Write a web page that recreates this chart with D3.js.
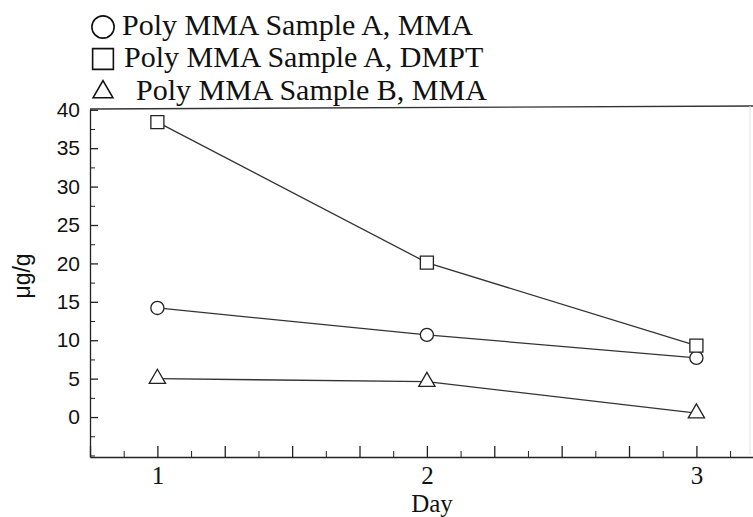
<!DOCTYPE html>
<html lang="en">
<head>
    <meta charset="UTF-8">
    <title>Poly MMA residuals</title>
    <script src="https://d3js.org/d3.v7.min.js"></script>
    <style>
        html, body {
            margin: 0;
            background: white;
        }
        .axis path, .axis line {
            stroke: #222;
        }
        .ytick text {
            font-family: "Liberation Sans", sans-serif;
            font-size: 21px;
            fill: #111;
        }
        .xtick text {
            font-family: "Liberation Serif", serif;
            font-size: 25px;
            fill: #111;
        }
        .serif {
            font-family: "Liberation Serif", serif;
            fill: #111;
        }
    </style>
</head>
<body>
    <div id="chart"></div>
    <script>

        // data
        var days = [1, 2, 3];
        var sampleA_MMA = [14.2, 10.7, 7.7];
        var sampleA_DMPT = [38.4, 20.1, 9.3];
        var sampleB_MMA = [5.0, 4.6, 0.5];

        var seriesNames = ["Poly MMA Sample A, MMA", "Poly MMA Sample A, DMPT", "Poly MMA Sample B, MMA"];
        var yMajorTicks = [0, 5, 10, 15, 20, 25, 30, 35, 40];
        var yMinorTicks = [-5, -2.5, 2.5, 7.5, 12.5, 17.5, 22.5, 27.5, 32.5, 37.5];
        var xLabelTicks = [1, 2, 3];
        var xLongTicks = [0.75, 1, 1.25, 1.5, 1.75, 2, 2.25, 2.5, 2.75, 3];
        var xShortTicks = [0.875, 1.125, 1.375, 1.625, 1.875, 2.125, 2.375, 2.625, 2.875, 3.125];

        var width = 753;
        var height = 517;

        var svg = d3.select('#chart')
                    .append('svg')
                        .attr('width', width)
                        .attr('height', height);

        var x = d3.scaleLinear()
                    .domain([0.75, 3.21])
                    .range([90, 753]);

        var y = d3.scaleLinear()
                    .domain([-5.2, 40.1])
                    .range([457, 109]);

        // frame top and faint right edge
        svg.append('line')
            .attr('x1', 90).attr('x2', width)
            .attr('y1', 109).attr('y2', 106)
            .attr('stroke', '#333')
            .attr('stroke-width', 1.3);

        svg.append('line')
            .attr('x1', 750).attr('x2', 750)
            .attr('y1', 106).attr('y2', 455)
            .attr('stroke', '#e2e2e2')
            .attr('stroke-width', 1);

        // y axis
        svg.append('g')
            .attr('class', 'axis ytick')
            .attr('transform', 'translate(90,0)')
            .call(d3.axisLeft(y).tickValues(yMajorTicks).tickSize(-8).tickPadding(10).tickSizeOuter(0))
            .call(function(g){ g.selectAll('path, line').attr('stroke-width', 1.3); });

        svg.append('g')
            .attr('class', 'axis')
            .attr('transform', 'translate(90,0)')
            .call(d3.axisLeft(y).tickValues(yMinorTicks).tickSize(-5).tickFormat('').tickSizeOuter(0))
            .call(function(g){ g.select('.domain').remove(); });

        // x axis
        svg.append('g')
            .attr('class', 'axis')
            .attr('transform', 'translate(0,457)')
            .call(d3.axisBottom(x).tickValues(xLongTicks).tickSize(-11).tickFormat('').tickSizeOuter(0))
            .call(function(g){ g.selectAll('path, line').attr('stroke-width', 1.3); });

        svg.append('g')
            .attr('class', 'axis')
            .attr('transform', 'translate(0,457)')
            .call(d3.axisBottom(x).tickValues(xShortTicks).tickSize(-6).tickFormat('').tickSizeOuter(0))
            .call(function(g){ g.select('.domain').remove(); });

        svg.append('g')
            .attr('class', 'xtick')
            .attr('transform', 'translate(0,457)')
            .call(d3.axisBottom(x).tickValues(xLabelTicks).tickSize(0).tickPadding(9).tickFormat(d3.format('d')))
            .call(function(g){ g.select('.domain').remove(); });

        // axis titles
        svg.append('text')
            .attr('class', 'serif')
            .attr('x', 432)
            .attr('y', 512)
            .attr('text-anchor', 'middle')
            .style('font-size', '25px')
            .text('Day');

        svg.append('text')
            .attr('transform', 'translate(30,276)rotate(-90)')
            .attr('text-anchor', 'middle')
            .style('font-family', '"Liberation Sans", sans-serif')
            .style('font-size', '23px')
            .attr('fill', '#111')
            .text('\u03bcg/g');

        // series
        var series = [
            { name: seriesNames[0], values: sampleA_MMA, symbol: d3.symbolCircle },
            { name: seriesNames[1], values: sampleA_DMPT, symbol: d3.symbolSquare },
            { name: seriesNames[2], values: sampleB_MMA, symbol: d3.symbolTriangle }
        ];

        var markerSize = [135, 170, 115];
        var legendSize = [390, 430, 170];

        var line = d3.line()
            .x(function(d){ return x(d.day); })
            .y(function(d){ return y(d.value); });

        series.forEach(function(s, i){
            var pts = days.map(function(d, j){ return { day: d, value: s.values[j] }; });

            svg.append('path')
                .datum(pts)
                .attr('d', line)
                .attr('fill', 'none')
                .attr('stroke', '#333')
                .attr('stroke-width', 1.3);

            svg.selectAll('.m' + i)
                .data(pts)
                .enter()
                .append('path')
                .attr('class', 'm' + i)
                .attr('transform', function(d){ return 'translate(' + x(d.day) + ',' + y(d.value) + ')'; })
                .attr('d', d3.symbol().type(s.symbol).size(markerSize[i]))
                .attr('fill', 'white')
                .attr('stroke', '#222')
                .attr('stroke-width', 1.3);
        });

        // legend
        var legend = svg.append('g')
            .attr('transform', 'translate(103,0)');

        var legendY = [27, 59, 92];
        var legendTextX = [19, 21, 33];

        series.forEach(function(s, i){
            legend.append('path')
                .attr('transform', 'translate(0,' + legendY[i] + ')')
                .attr('d', d3.symbol().type(s.symbol).size(legendSize[i]))
                .attr('fill', 'white')
                .attr('stroke', '#111')
                .attr('stroke-width', 1.6);

            legend.append('text')
                .attr('class', 'serif')
                .attr('x', legendTextX[i])
                .attr('y', legendY[i] + 8)
                .style('font-size', '30px')
                .text(s.name);
        });

    </script>
</body>
</html>
